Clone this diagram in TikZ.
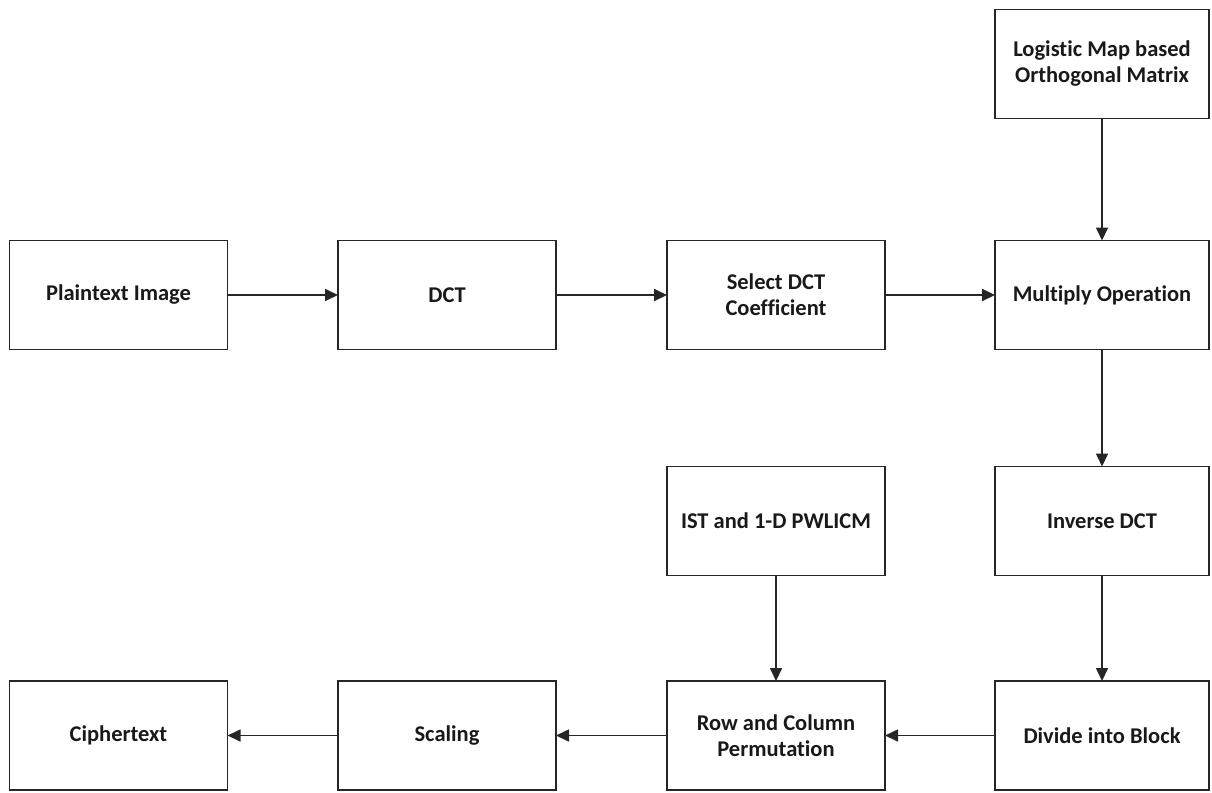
\documentclass[tikz,border=0pt]{standalone}
\usepackage{fontspec}
\setmainfont{Carlito}[RawFeature={-liga}]
\usetikzlibrary{arrows.meta}
\begin{document}
\begin{tikzpicture}[x=1pt,y=-1pt,
  blk/.style={draw=black!85,line width=1.7pt,rectangle,minimum width=218pt,minimum height=109pt,
    inner sep=2pt,outer sep=0pt,align=center,font=\fontsize{22.5}{26}\selectfont\bfseries,text=black!90},
  rblk/.style={blk,minimum width=214pt},
  conn/.style={draw=black!85,line width=1.7pt,-{Triangle[length=13pt,width=12pt]}}]
\useasboundingbox (0,0) rectangle (1212,792);
\node[rblk] (lm) at (1102,64) {Logistic Map based\\Orthogonal Matrix};
\node[blk] (pi) at (118.5,295) {Plaintext Image};
\node[blk] (dct) at (447,295) {DCT};
\node[blk] (sel) at (776,295) {Select DCT\\Coefficient};
\node[rblk] (mul) at (1102,295) {Multiply Operation};
\node[blk] (ist) at (776,521) {IST and 1-D PWLICM};
\node[rblk] (inv) at (1102,521) {Inverse DCT};
\node[blk] (ct) at (118.5,735.5) {Ciphertext};
\node[blk] (sc) at (447,735.5) {Scaling};
\node[blk] (rc) at (776,735.5) {Row and Column\\Permutation};
\node[rblk] (div) at (1102,735.5) {Divide into Block};
\draw[conn] (pi) -- (dct);
\draw[conn] (dct) -- (sel);
\draw[conn] (sel) -- (mul);
\draw[conn] (lm) -- (mul);
\draw[conn] (mul) -- (inv);
\draw[conn] (inv) -- (div);
\draw[conn] (div) -- (rc);
\draw[conn] (ist) -- (rc);
\draw[conn] (rc) -- (sc);
\draw[conn] (sc) -- (ct);
\end{tikzpicture}
\end{document}
